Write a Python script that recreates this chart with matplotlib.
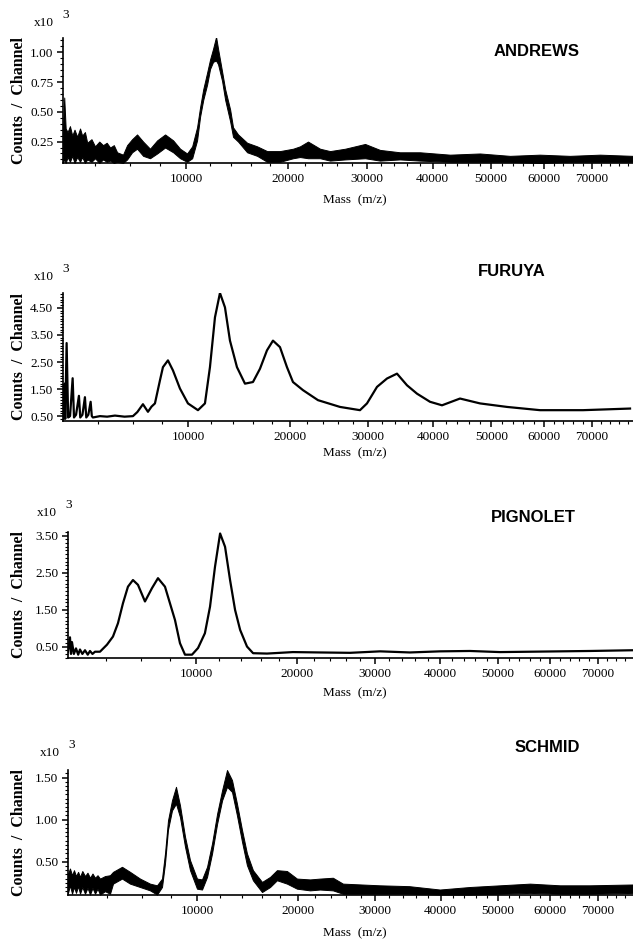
import numpy as np
import matplotlib.pyplot as plt
from matplotlib.ticker import FixedLocator, MultipleLocator, FormatStrFormatter

plt.rcParams['font.family'] = ['Liberation Serif', 'DejaVu Serif']

W, H = 633, 942

# ---- ANDREWS (noisy, band between low and high edge of the trace) ----
andrews_mass = [2500, 2560, 2620, 2700, 2800, 2900, 3000, 3120, 3250, 3350, 3480, 3590,
                3800, 3980, 4200, 4400, 4600, 4790, 5000, 5190, 5540, 5790, 6100, 6420,
                6820, 7290, 7790, 8370, 8980, 9520, 10080, 10500, 10910, 11170, 11440,
                11780, 12040, 12310, 12580, 12760, 13130, 13420, 13890, 14170, 14660,
                15560, 16590, 17650, 19060, 20560, 21370, 22330, 23810, 25080, 27060,
                29780, 31900, 34860, 37950, 42850, 48010, 53500, 59240, 65330, 71720, 79000]
andrews_hi = [0.30, 0.62, 0.36, 0.33, 0.38, 0.30, 0.35, 0.29, 0.36, 0.30, 0.33, 0.24,
              0.27, 0.21, 0.25, 0.22, 0.24, 0.20, 0.22, 0.16, 0.14, 0.22, 0.27, 0.31,
              0.25, 0.19, 0.26, 0.31, 0.26, 0.19, 0.15, 0.21, 0.37, 0.54, 0.69,
              0.83, 0.94, 1.03, 1.13, 1.03, 0.84, 0.69, 0.52, 0.37, 0.31,
              0.24, 0.21, 0.17, 0.17, 0.19, 0.21, 0.25, 0.19, 0.17, 0.19,
              0.23, 0.18, 0.16, 0.16, 0.14, 0.15, 0.13, 0.14, 0.13, 0.14, 0.13]
andrews_lo = [0.07, 0.10, 0.07, 0.12, 0.08, 0.13, 0.07, 0.12, 0.08, 0.12, 0.07, 0.10,
              0.08, 0.11, 0.07, 0.10, 0.08, 0.09, 0.07, 0.08, 0.07, 0.10, 0.16, 0.19,
              0.13, 0.11, 0.15, 0.20, 0.16, 0.11, 0.08, 0.11, 0.26, 0.46, 0.60,
              0.73, 0.86, 0.92, 0.93, 0.90, 0.76, 0.60, 0.42, 0.29, 0.25,
              0.16, 0.13, 0.08, 0.08, 0.11, 0.12, 0.11, 0.11, 0.09, 0.10,
              0.11, 0.09, 0.10, 0.09, 0.08, 0.08, 0.08, 0.07, 0.08, 0.08, 0.08]

# ---- FURUYA ----
furuya_mass = [2420, 2476, 2500, 2557, 2620, 2700, 2811, 2870, 2960, 3089, 3150, 3250,
               3367, 3430, 3530, 3642, 3700, 3756, 4114, 4500, 4935, 5500, 6020, 6300,
               6669, 7006, 7250, 7491, 7848, 8066, 8436, 8815, 9358, 10000, 10832,
               11433, 11873, 12322, 12778, 13243, 13716, 14392, 15185, 15999, 16729,
               17475, 18127, 18903, 19695, 20388, 21569, 23402, 26224, 28930, 29908,
               31335, 32794, 34286, 35812, 37371, 39448, 41414, 44453, 47956, 52897,
               59264, 68100, 78462]
furuya_counts = [0.40, 1.70, 0.40, 3.20, 0.45, 0.50, 1.90, 0.45, 0.55, 1.25, 0.45, 0.55,
                 1.20, 0.45, 0.55, 1.03, 0.50, 0.45, 0.50, 0.48, 0.52, 0.48, 0.50, 0.65,
                 0.94, 0.66, 0.85, 0.97, 1.82, 2.31, 2.56, 2.19, 1.52, 0.97, 0.72,
                 0.97, 2.31, 4.15, 5.05, 4.52, 3.29, 2.31, 1.70, 1.76, 2.25,
                 2.93, 3.29, 3.05, 2.31, 1.76, 1.46, 1.09, 0.84, 0.72, 0.97,
                 1.58, 1.89, 2.07, 1.64, 1.33, 1.03, 0.90, 1.15, 0.97, 0.84,
                 0.72, 0.72, 0.78]

# ---- PIGNOLET ----
pignolet_mass = [2264, 2343, 2383, 2423, 2500, 2587, 2680, 2756, 2860, 2976, 3100, 3203,
                 3320, 3439, 3683, 4039, 4357, 4631, 4914, 5205, 5505, 5814, 6259, 6721,
                 7130, 7623, 7984, 8354, 8733, 9121, 9679, 10170, 10745, 11185, 11620,
                 12074, 12524, 12987, 13460, 13945, 14617, 15226, 16667, 19518, 22742,
                 26600, 30770, 35200, 39960, 45030, 50400, 56070, 62000, 68280, 77840]
pignolet_counts = [0.35, 0.75, 0.30, 0.62, 0.30, 0.45, 0.28, 0.42, 0.30, 0.40, 0.28, 0.38,
                   0.30, 0.36, 0.36, 0.55, 0.77, 1.13, 1.67, 2.12, 2.30, 2.17, 1.72, 2.08,
                   2.35, 2.12, 1.67, 1.22, 0.59, 0.28, 0.28, 0.46, 0.86, 1.58, 2.66,
                   3.56, 3.20, 2.30, 1.49, 0.95, 0.50, 0.32, 0.31, 0.35, 0.34,
                   0.33, 0.37, 0.34, 0.37, 0.38, 0.35, 0.36, 0.37, 0.38, 0.40]

# ---- SCHMID (noisy) ----
schmid_mass = [2213, 2290, 2371, 2450, 2533, 2620, 2701, 2800, 2918, 3030, 3145, 3260,
               3379, 3500, 3622, 3873, 4133, 4293, 4790, 5256, 5868, 6514, 6986, 7333,
               7545, 7760, 8053, 8350, 8653, 9039, 9434, 10000, 10416, 10842, 11276,
               11718, 12168, 12617, 13081, 13551, 14034, 14520, 15120, 16050, 16900,
               17640, 18750, 19890, 21430, 22650, 24270, 25570, 30650, 35000, 39880,
               44950, 50350, 56030, 62000, 68280, 77840]
schmid_hi = [0.36, 0.42, 0.34, 0.40, 0.33, 0.38, 0.32, 0.39, 0.33, 0.37, 0.31, 0.36,
             0.31, 0.34, 0.30, 0.33, 0.34, 0.38, 0.44, 0.38, 0.30, 0.24, 0.22, 0.30,
             0.60, 0.99, 1.23, 1.39, 1.17, 0.80, 0.52, 0.30, 0.29, 0.44, 0.72,
             1.07, 1.35, 1.59, 1.47, 1.19, 0.88, 0.60, 0.40, 0.26, 0.32,
             0.40, 0.39, 0.30, 0.29, 0.30, 0.31, 0.24, 0.22, 0.21, 0.17,
             0.20, 0.22, 0.24, 0.22, 0.22, 0.23]
schmid_lo = [0.13, 0.22, 0.12, 0.20, 0.13, 0.21, 0.12, 0.20, 0.12, 0.19, 0.11, 0.19,
             0.12, 0.18, 0.11, 0.15, 0.12, 0.24, 0.30, 0.24, 0.20, 0.16, 0.11, 0.20,
             0.48, 0.88, 1.11, 1.19, 1.03, 0.68, 0.40, 0.18, 0.17, 0.32, 0.60,
             0.95, 1.23, 1.39, 1.33, 1.05, 0.74, 0.46, 0.28, 0.14, 0.20,
             0.28, 0.24, 0.18, 0.16, 0.17, 0.16, 0.12, 0.12, 0.12, 0.11,
             0.11, 0.12, 0.13, 0.12, 0.12, 0.13]

panel_names = ["ANDREWS", "FURUYA", "PIGNOLET", "SCHMID"]
mass_ticks = [10000, 20000, 30000, 40000, 50000, 60000, 70000]
y_ticks = [[0.25, 0.50, 0.75, 1.00],
           [0.50, 1.50, 2.50, 3.50, 4.50],
           [0.50, 1.50, 2.50, 3.50],
           [0.50, 1.00, 1.50]]
y_minor = [0.05, 0.1, 0.1, 0.05]
y_limits = [(0.07, 1.12), (0.32, 5.05), (0.19, 3.60), (0.105, 1.59)]
x_limits = [(2510, 79070), (2410, 79140), (2265, 77830), (2213, 77840)]

# layout in pixels: left spine x, top of y axis, bottom spine y
boxes = [(63, 38, 163), (63, 293, 421), (68, 532, 658), (68, 770, 895)]
title_xy = [(537, 52), (512, 272), (533, 517), (547, 747)]
x10_xy = [(44, 23), (44, 277), (47, 513), (50, 753)]
mass_lab_y = [200, 453, 693, 933]


def fx(px):
    return px / W


def fy(py):
    return 1 - py / H


fig = plt.figure(figsize=(W / 100, H / 100), dpi=100)

axes = []
for i, (left, top, bottom) in enumerate(boxes):
    ax = fig.add_axes([fx(left), fy(bottom), (W - left) / W, (bottom - top) / H])
    # time-of-flight axis: position goes with sqrt(mass)
    ax.set_xscale('function', functions=(lambda m: np.sqrt(np.clip(m, 0, None)),
                                         lambda s: s ** 2))
    axes.append(ax)

axes[0].fill_between(andrews_mass, andrews_lo, andrews_hi, color='black', lw=0.7)
axes[1].plot(furuya_mass, furuya_counts, color='black', lw=1.6)
axes[2].plot(pignolet_mass, pignolet_counts, color='black', lw=1.6)
axes[3].fill_between(schmid_mass, schmid_lo, schmid_hi, color='black', lw=0.7)

for i, ax in enumerate(axes):
    ax.set_xlim(*x_limits[i])
    ax.set_ylim(*y_limits[i])
    for side in ['top', 'right']:
        ax.spines[side].set_visible(False)
    ax.spines['left'].set_linewidth(1.2)
    ax.spines['bottom'].set_linewidth(1.2)
    ax.xaxis.set_major_locator(FixedLocator(mass_ticks))
    ax.xaxis.set_minor_locator(MultipleLocator(2000))
    ax.xaxis.set_major_formatter(FormatStrFormatter('%d'))
    ax.yaxis.set_major_locator(FixedLocator(y_ticks[i]))
    ax.yaxis.set_minor_locator(MultipleLocator(y_minor[i]))
    ax.yaxis.set_major_formatter(FormatStrFormatter('%.2f'))
    ax.tick_params(which='major', length=4, width=1.1, labelsize=9.5, pad=3)
    ax.tick_params(which='minor', length=2.5, width=0.8)
    ax.patch.set_alpha(0)

    tx, ty = title_xy[i]
    fig.text(fx(tx), fy(ty), panel_names[i], family='Liberation Sans', weight='bold',
             fontsize=12, ha='center', va='center')
    xx, xy = x10_xy[i]
    fig.text(fx(xx), fy(xy), 'x10', fontsize=9.5, ha='center', va='center')
    fig.text(fx(xx + 22), fy(xy - 8), '3', fontsize=9.5, ha='center', va='center')
    fig.text(fx(355), fy(mass_lab_y[i]), 'Mass  (m/z)', fontsize=9.5, ha='center', va='center')
    fig.text(fx(19), fy((boxes[i][1] + boxes[i][2]) / 2), 'Counts  /  Channel', rotation=90,
             fontsize=11.5, weight='bold', ha='center', va='center')

fig.savefig('out.png', dpi=100)
